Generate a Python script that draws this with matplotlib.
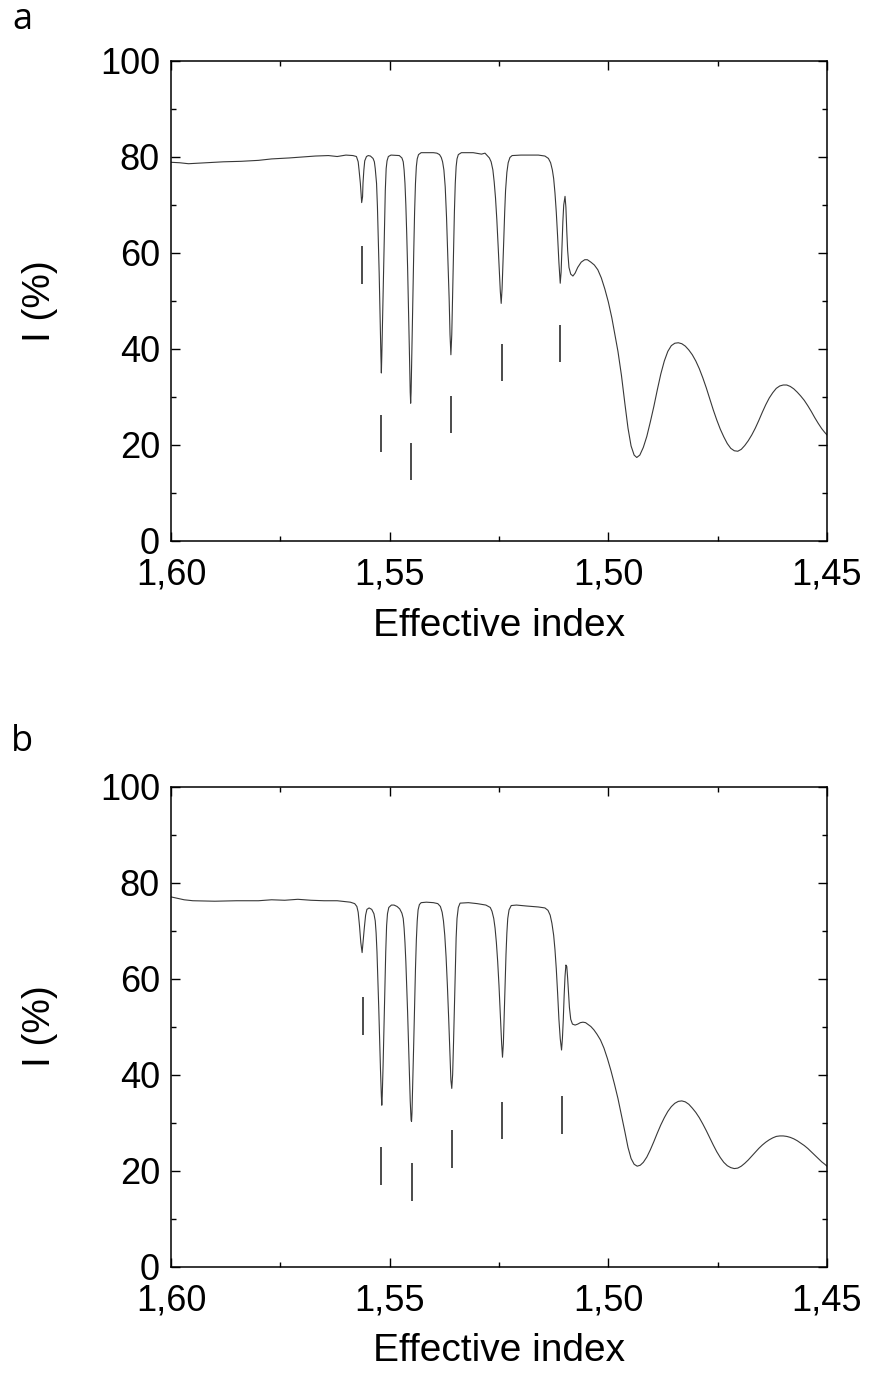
import matplotlib
matplotlib.use("Agg")
import matplotlib.pyplot as plt
from matplotlib.ticker import MultipleLocator, FuncFormatter

plt.rcParams['font.family'] = ['Liberation Sans', 'DejaVu Sans']

# ---------------- Panel a data ----------------
a_x = [1.6000, 1.5980, 1.5960, 1.5940, 1.5920, 1.5880, 1.5840, 1.5800, 1.5770, 1.5730,
       1.5700, 1.5670, 1.5640, 1.5620, 1.5600, 1.5584,
       1.5576, 1.5572, 1.5570, 1.5567, 1.5565, 1.5564, 1.5562, 1.5561, 1.5559, 1.5557,
       1.5553, 1.5549, 1.5544,
       1.5538, 1.5535, 1.5533, 1.5530, 1.5528, 1.5526, 1.5524, 1.5522, 1.5520, 1.5519,
       1.5518, 1.5516, 1.5514, 1.5512, 1.5510, 1.5508, 1.5506, 1.5503, 1.5497,
       1.5478, 1.5472, 1.5469, 1.5467, 1.5465, 1.5463, 1.5461, 1.5459, 1.5457, 1.5455,
       1.5453, 1.5452, 1.5451, 1.5449, 1.5447, 1.5445, 1.5443, 1.5441, 1.5439, 1.5437,
       1.5434, 1.5428, 1.5416, 1.5400, 1.5392,
       1.5386, 1.5382, 1.5379, 1.5376, 1.5373, 1.5370, 1.5367, 1.5364, 1.5362, 1.5360,
       1.5358, 1.5356, 1.5354, 1.5352, 1.5350, 1.5348, 1.5346, 1.5343, 1.5336, 1.5309,
       1.5290, 1.5282,
       1.5278, 1.5272, 1.5268, 1.5264, 1.5261, 1.5258, 1.5255, 1.5252, 1.5249, 1.5247,
       1.5245, 1.5243, 1.5241, 1.5239, 1.5237, 1.5235, 1.5232, 1.5229, 1.5225, 1.5220,
       1.5200, 1.5160, 1.5145,
       1.5137, 1.5132, 1.5128, 1.5125, 1.5122, 1.5119, 1.5116, 1.5113, 1.5110, 1.5108,
       1.5106, 1.5104, 1.5102, 1.5099, 1.5097, 1.5095, 1.5093, 1.5090, 1.5086, 1.5081,
       1.5076, 1.5070, 1.5062, 1.5054, 1.5048, 1.5040, 1.5032, 1.5024, 1.5016, 1.5008,
       1.5000, 1.4992, 1.4985, 1.4978, 1.4970, 1.4962, 1.4955, 1.4948, 1.4941, 1.4935,
       1.4928, 1.4920, 1.4912, 1.4904, 1.4896, 1.4888, 1.4880, 1.4872, 1.4864, 1.4856,
       1.4848, 1.4840, 1.4832, 1.4824, 1.4816, 1.4808, 1.4800, 1.4792, 1.4784, 1.4776,
       1.4768, 1.4760, 1.4752, 1.4744, 1.4736, 1.4728, 1.4720, 1.4712, 1.4704, 1.4696,
       1.4688, 1.4680, 1.4672, 1.4664, 1.4656, 1.4648, 1.4640, 1.4632, 1.4624, 1.4616,
       1.4608, 1.4600, 1.4592, 1.4584, 1.4576, 1.4568, 1.4560, 1.4552, 1.4544, 1.4536,
       1.4528, 1.4520, 1.4512, 1.4505, 1.4500]
a_y = [78.9, 78.8, 78.6, 78.7, 78.8, 79.0, 79.1, 79.3, 79.6, 79.8,
       80.0, 80.2, 80.3, 80.1, 80.4, 80.3,
       80.1, 79.0, 77.3, 74.5, 71.7, 70.5, 71.7, 74.5, 77.3, 79.2,
       80.1, 80.3, 80.2,
       79.7, 79.0, 77.6, 74.5, 69.7, 63.0, 55.8, 47.0, 38.5, 35.0,
       38.5, 47.0, 55.8, 65.0, 73.0, 77.6, 79.2, 80.1, 80.4,
       80.3, 79.8, 79.0, 77.3, 74.5, 70.0, 64.0, 57.0, 49.0, 40.0,
       31.0, 28.7, 31.0, 41.0, 51.0, 60.0, 68.5, 74.5, 78.0, 79.6,
       80.5, 80.9, 80.9, 80.9, 80.8,
       80.5, 79.9, 79.0, 77.3, 73.8, 67.5, 59.3, 50.5, 43.0, 38.8,
       43.0, 51.0, 60.0, 68.5, 74.5, 78.0, 79.6, 80.5, 80.9, 80.9,
       80.6, 80.8,
       80.4, 79.8, 79.0, 77.3, 74.8, 71.5, 67.0, 61.5, 55.5, 52.0,
       49.5, 52.5, 57.5, 63.0, 68.5, 73.0, 76.8, 78.8, 79.9, 80.3,
       80.4, 80.4, 80.2,
       79.7, 78.8, 77.3, 75.5, 72.5, 68.5, 63.5, 58.0, 53.7, 56.0,
       61.5, 66.5, 70.0, 71.8, 69.5, 64.5, 60.5, 57.0, 55.6, 55.2,
       55.8, 57.0, 58.1, 58.6, 58.6, 58.1, 57.5, 56.5, 54.8, 52.5,
       49.8, 46.5, 43.0, 39.5, 34.5, 28.5, 23.5, 19.8, 17.9, 17.4,
       17.9, 19.5, 21.8, 24.8, 28.0, 31.5, 34.8, 37.5, 39.5, 40.7,
       41.2, 41.3, 41.1, 40.6, 39.8, 38.8, 37.5, 35.9, 34.0, 31.9,
       29.6, 27.3, 25.2, 23.3, 21.7, 20.3, 19.3, 18.8, 18.7, 19.1,
       19.9, 20.9, 22.1, 23.5, 25.1, 26.8, 28.4, 29.8, 30.9, 31.8,
       32.3, 32.5, 32.5, 32.2, 31.7, 31.0, 30.2, 29.3, 28.2, 27.0,
       25.7, 24.5, 23.4, 22.6, 22.1]
a_mark_x = [1.5563, 1.5519, 1.5452, 1.5360, 1.5243, 1.5110]
a_mark_top = [61.5, 26.2, 20.5, 30.2, 41.1, 45.1]
a_mark_bot = [53.6, 18.5, 12.7, 22.4, 33.4, 37.2]

# ---------------- Panel b data ----------------
b_x = [1.6000, 1.5985, 1.5970, 1.5950, 1.5900, 1.5850, 1.5800, 1.5770, 1.5740, 1.5710,
       1.5680, 1.5650, 1.5620, 1.5600,
       1.5590, 1.5580, 1.5575, 1.5572, 1.5569, 1.5566, 1.5563, 1.5561, 1.5558, 1.5555,
       1.5552, 1.5547, 1.5541, 1.5536, 1.5533, 1.5531, 1.5529, 1.5527, 1.5525, 1.5523,
       1.5521, 1.5519, 1.5518, 1.5517, 1.5515, 1.5513, 1.5511, 1.5509, 1.5507, 1.5505,
       1.5502, 1.5496, 1.5490, 1.5483, 1.5477, 1.5472, 1.5469, 1.5467, 1.5465, 1.5463,
       1.5461, 1.5459, 1.5457, 1.5455, 1.5453, 1.5451, 1.5450, 1.5449, 1.5447, 1.5445,
       1.5443, 1.5441, 1.5439, 1.5437, 1.5435, 1.5432, 1.5428, 1.5416, 1.5400, 1.5390,
       1.5384, 1.5380, 1.5377, 1.5374, 1.5371, 1.5368, 1.5365, 1.5362, 1.5360, 1.5358,
       1.5356, 1.5354, 1.5352, 1.5350, 1.5348, 1.5346, 1.5343, 1.5339, 1.5320, 1.5300,
       1.5280, 1.5270, 1.5266, 1.5262, 1.5259, 1.5256, 1.5253, 1.5250, 1.5247, 1.5244,
       1.5242, 1.5240, 1.5238, 1.5236, 1.5234, 1.5232, 1.5230, 1.5227, 1.5222, 1.5210,
       1.5187, 1.5160, 1.5145, 1.5138, 1.5133, 1.5129, 1.5125, 1.5122, 1.5119, 1.5116,
       1.5113, 1.5110, 1.5107, 1.5105, 1.5103, 1.5101, 1.5099, 1.5097, 1.5095, 1.5093,
       1.5091, 1.5089, 1.5086, 1.5082, 1.5076, 1.5070, 1.5064, 1.5058, 1.5052, 1.5046,
       1.5040, 1.5033, 1.5026, 1.5018, 1.5010, 1.5002, 1.4994, 1.4986, 1.4978, 1.4970,
       1.4962, 1.4955, 1.4948, 1.4941, 1.4934, 1.4927, 1.4920, 1.4912, 1.4904, 1.4896,
       1.4888, 1.4880, 1.4872, 1.4864, 1.4856, 1.4848, 1.4840, 1.4832, 1.4824, 1.4816,
       1.4808, 1.4800, 1.4792, 1.4784, 1.4776, 1.4768, 1.4760, 1.4752, 1.4744, 1.4736,
       1.4728, 1.4720, 1.4712, 1.4704, 1.4696, 1.4688, 1.4680, 1.4672, 1.4664, 1.4656,
       1.4648, 1.4640, 1.4632, 1.4624, 1.4616, 1.4608, 1.4600, 1.4592, 1.4584, 1.4576,
       1.4568, 1.4560, 1.4552, 1.4544, 1.4536, 1.4528, 1.4520, 1.4512, 1.4505, 1.4500]
b_y = [77.0, 76.7, 76.4, 76.2, 76.1, 76.2, 76.2, 76.4, 76.3, 76.5,
       76.3, 76.2, 76.2, 76.0,
       75.9, 75.6, 75.0, 73.8, 71.0, 67.5, 65.4, 67.5, 70.5, 73.2,
       74.4, 74.7, 74.4, 73.5, 72.0, 69.5, 65.5, 60.0, 54.0, 47.5,
       41.0, 35.5, 33.6, 35.5, 42.0, 50.0, 58.0, 65.5, 71.0, 73.5,
       74.8, 75.3, 75.3, 75.0, 74.5, 73.6, 72.5, 70.5, 67.5, 63.5,
       58.5, 53.0, 47.0, 40.5, 34.5, 30.5, 30.2, 32.0, 39.0, 46.5,
       54.5, 62.0, 68.0, 72.0, 74.3, 75.4, 75.8, 75.9, 75.8, 75.6,
       75.0, 73.8, 72.0, 69.0, 64.5, 58.5, 51.5, 43.5, 38.8, 37.1,
       40.0, 46.5, 54.0, 62.0, 68.5, 72.5, 74.8, 75.7, 75.8, 75.6,
       75.3, 74.8, 74.0, 72.5, 70.5, 67.5, 63.5, 58.5, 52.5, 46.5,
       43.6, 46.5, 52.5, 59.0, 65.0, 69.5, 72.5, 74.3, 75.2, 75.3,
       75.1, 74.9, 74.7, 74.2, 73.2, 71.5, 69.0, 66.0, 62.0, 57.0,
       51.5, 47.5, 45.1, 47.5, 51.5, 56.5, 60.5, 62.8, 62.5, 60.0,
       57.0, 54.0, 51.5, 50.5, 50.3, 50.5, 50.8, 50.9, 50.8, 50.4,
       50.0, 49.3, 48.4, 47.2, 45.5, 43.3, 40.8, 38.0, 35.0, 31.5,
       28.0, 24.8, 22.5, 21.3, 20.9, 21.1, 21.7, 22.8, 24.3, 26.0,
       27.8, 29.5, 31.0, 32.3, 33.3, 34.0, 34.4, 34.5, 34.3, 33.8,
       33.0, 32.1, 31.0, 29.7, 28.3, 26.8, 25.3, 23.9, 22.7, 21.7,
       21.0, 20.6, 20.4, 20.5, 20.9, 21.5, 22.2, 23.0, 23.8, 24.6,
       25.3, 25.9, 26.4, 26.8, 27.1, 27.2, 27.2, 27.1, 26.9, 26.6,
       26.2, 25.7, 25.2, 24.6, 23.9, 23.2, 22.5, 21.8, 21.3, 20.9]
b_mark_x = [1.5562, 1.5519, 1.5450, 1.5358, 1.5243, 1.5107]
b_mark_top = [56.2, 24.8, 21.5, 28.4, 34.3, 35.6]
b_mark_bot = [48.3, 17.0, 13.7, 20.5, 26.5, 27.7]

x_ticks = [1.60, 1.55, 1.50, 1.45]
y_ticks = [0, 20, 40, 60, 80, 100]
panel_labels = ['a', 'b']

W, H = 869, 1378
fig = plt.figure(figsize=(W / 100, H / 100), dpi=100)

def comma(v, pos):
    return f"{v:.2f}".replace('.', ',')

def draw(rect, xs, ys, mx, mtop, mbot, letter, letter_pos):
    ax = fig.add_axes(rect)
    ax.plot(xs, ys, color='#383838', lw=0.8)
    ax.vlines(mx, mbot, mtop, color='#1a1a1a', lw=1.1)
    ax.set_xlim(1.60, 1.45)
    ax.set_ylim(0, 100)
    ax.set_xticks(x_ticks)
    ax.xaxis.set_major_formatter(FuncFormatter(comma))
    ax.xaxis.set_minor_locator(MultipleLocator(0.025))
    ax.set_yticks(y_ticks)
    ax.yaxis.set_minor_locator(MultipleLocator(10))
    ax.tick_params(which='both', direction='in', top=True, right=True, width=1.0)
    ax.tick_params(which='major', length=6.5, labelsize=26)
    ax.tick_params(which='minor', length=3.6)
    ax.tick_params(axis='x', which='major', pad=12)
    ax.tick_params(axis='y', which='major', pad=8)
    for s in ax.spines.values():
        s.set_linewidth(1.1)
    ax.set_xlabel('Effective index', fontsize=28, labelpad=11)
    ax.set_ylabel('I (%)', fontsize=28, labelpad=30)
    fig.text(letter_pos[0] / W, 1 - letter_pos[1] / H, letter, fontsize=26,
             family=['Open Sans', 'DejaVu Sans'], ha='center', va='center')
    return ax

L, R = 171 / W, 827 / W
draw([L, 1 - 541 / H, R - L, 480 / H], a_x, a_y, a_mark_x, a_mark_top, a_mark_bot,
     panel_labels[0], (22, 20))
draw([L, 1 - 1266.5 / H, R - L, 480 / H], b_x, b_y, b_mark_x, b_mark_top, b_mark_bot,
     panel_labels[1], (22, 742))

fig.savefig('out.png', dpi=100)
